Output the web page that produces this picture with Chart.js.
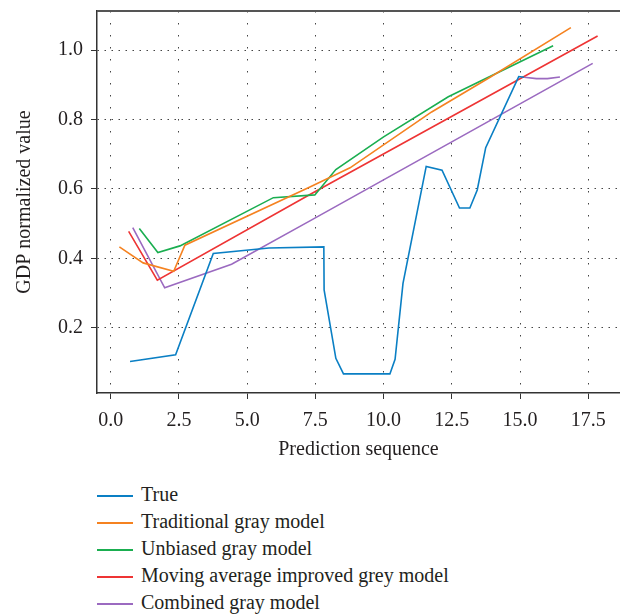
<!DOCTYPE html>
<html>
<head>
<meta charset="utf-8">
<script src="https://cdn.jsdelivr.net/npm/chart.js@4.4.1/dist/chart.umd.min.js"></script>
<style>
  body { margin: 0; background: #fff; }
  #wrap { position: relative; width: 620px; height: 614px; overflow: hidden; }
  #c { position: absolute; left: 0; top: 0; }
  #legend { position: absolute; left: 97px; top: 481px; font-family: "Liberation Serif", serif; font-size: 20px; color: #231f20; }
  #legend div { height: 27px; line-height: 27px; white-space: nowrap; }
  #legend span.ln { display: inline-block; width: 36px; height: 2px; vertical-align: middle; margin-right: 8px; }
</style>
</head>
<body>
<div id="wrap">
  <canvas id="c" width="620" height="470"></canvas>
  <div id="legend"></div>
</div>
<script>
// values
const seriesNames = ['True', 'Traditional gray model', 'Unbiased gray model', 'Moving average improved grey model', 'Combined gray model'];
const seriesColors = ['#0a7fc4', '#f58220', '#1aae50', '#ee3434', '#9b6ac0'];

const trueX = [0.71, 2.38, 3.76, 5.8, 7.81, 7.82, 8.25, 8.53, 10.23, 10.42, 10.71, 11.56, 12.14, 12.78, 13.16, 13.43, 13.74, 14.95, 15.15];
const trueY = [0.103, 0.122, 0.414, 0.430, 0.433, 0.309, 0.112, 0.067, 0.067, 0.109, 0.328, 0.665, 0.654, 0.545, 0.545, 0.597, 0.719, 0.924, 0.922];

const tradX = [0.32, 1.19, 2.31, 2.72, 7.30, 8.77, 11.76, 13.9, 16.86];
const tradY = [0.433, 0.387, 0.363, 0.438, 0.606, 0.661, 0.822, 0.922, 1.065];

const unbX = [1.05, 1.73, 2.54, 5.96, 7.48, 8.25, 10.0, 12.37, 16.21];
const unbY = [0.486, 0.417, 0.436, 0.575, 0.583, 0.656, 0.750, 0.866, 1.013];

const movX = [0.66, 1.71, 7.30, 17.84];
const movY = [0.478, 0.337, 0.584, 1.041];

const combX = [0.81, 1.98, 4.43, 7.30, 17.66, 15.05, 15.15, 15.6, 16.0, 16.46];
const combY = [0.489, 0.315, 0.383, 0.508, 0.962, null, 0.922, 0.918, 0.918, 0.923];

const xTicks = [0, 2.5, 5, 7.5, 10, 12.5, 15, 17.5];
const yTicks = [0.2, 0.4, 0.6, 0.8, 1.0];

function pts(xs, ys) { return xs.map((x, i) => ({ x: x, y: ys[i] })); }
const allData = [pts(trueX, trueY), pts(tradX, tradY), pts(unbX, unbY), pts(movX, movY), pts(combX, combY)];

const serif = '"Liberation Serif", serif';
const txt = '#231f20';

// top frame line
const topLine = {
  id: 'topLine',
  afterDraw(chart) {
    const { ctx, chartArea } = chart;
    ctx.save();
    ctx.strokeStyle = '#555';
    ctx.lineWidth = 2;
    ctx.beginPath();
    ctx.moveTo(chartArea.left, chartArea.top);
    ctx.lineTo(chartArea.right, chartArea.top);
    ctx.stroke();
    ctx.restore();
  }
};

const chart = new Chart(document.getElementById('c').getContext('2d'), {
  type: 'line',
  data: {
    datasets: allData.map((d, i) => ({
      label: seriesNames[i],
      data: d,
      borderColor: seriesColors[i],
      backgroundColor: seriesColors[i],
      borderWidth: 1.6,
      pointRadius: 0,
      tension: 0,
      spanGaps: false
    }))
  },
  options: {
    responsive: false,
    animation: false,
    layout: { padding: { top: 11, right: 0, left: 0, bottom: 0 } },
    plugins: { legend: { display: false }, tooltip: { enabled: false } },
    scales: {
      x: {
        type: 'linear',
        min: -0.5,
        max: 18.66,
        afterFit: s => { s.height = 77; s.paddingLeft = 0; s.paddingRight = 0; },
        afterBuildTicks: s => { s.ticks = xTicks.map(v => ({ value: v })); },
        ticks: { font: { family: serif, size: 20 }, color: txt, padding: 10, maxRotation: 0, callback: v => v.toFixed(1) },
        grid: { color: '#444', lineWidth: 1, tickLength: 6, tickColor: '#333', tickBorderDash: [] },
        border: { color: '#333', width: 1.5, dash: [1.5, 10.5] },
        title: { display: true, text: 'Prediction sequence', font: { family: serif, size: 20 }, color: txt, padding: { top: 0, bottom: 8 } }
      },
      y: {
        type: 'linear',
        min: 0.012,
        max: 1.113,
        afterFit: s => { s.width = 97; s.paddingTop = 0; s.paddingBottom = 0; },
        afterBuildTicks: s => { s.ticks = yTicks.map(v => ({ value: v })); },
        ticks: { font: { family: serif, size: 20 }, color: txt, padding: 8, callback: v => v.toFixed(1) },
        grid: { color: '#444', lineWidth: 1, tickLength: 6, tickColor: '#333', tickBorderDash: [] },
        border: { color: '#333', width: 1.5, dash: [1.5, 5.5] },
        title: { display: true, text: 'GDP normalized value', font: { family: serif, size: 20 }, color: txt, padding: { top: 13, bottom: 0 } }
      }
    }
  },
  plugins: [topLine]
});

// legend, one entry per row
const legend = document.getElementById('legend');
seriesNames.forEach((name, i) => {
  const row = document.createElement('div');
  row.innerHTML = `<span class="ln" style="background:${seriesColors[i]}"></span>${name}`;
  legend.appendChild(row);
});
</script>
</body>
</html>
